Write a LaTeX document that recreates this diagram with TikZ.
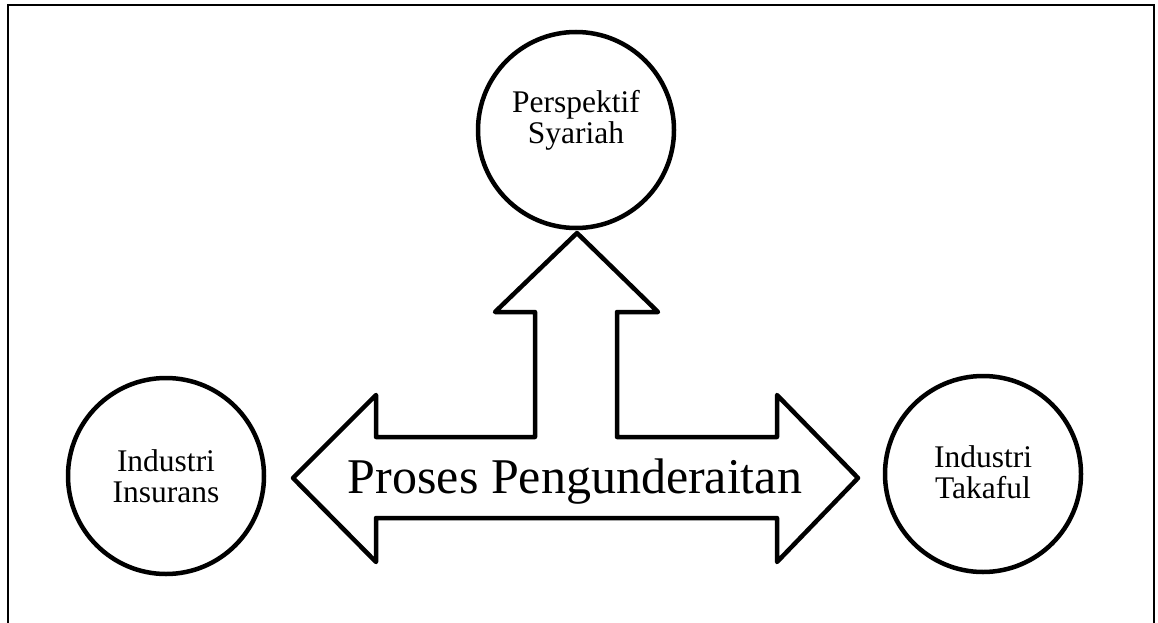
\documentclass[tikz,border=0pt]{standalone}
\usepackage{fontspec}
\setmainfont{Liberation Serif}
\begin{document}
\begin{tikzpicture}[x=1pt,y=-1pt,
  ring/.style={draw,circle,line width=4.5pt,minimum size=196pt,inner sep=0pt},
  ringtext/.style={align=center,font=\fontsize{31.5}{31}\selectfont,inner sep=0pt},
  bigtext/.style={font=\fontsize{50}{60}\selectfont,inner sep=0pt},
  outline/.style={draw,line width=4.5pt,line join=round}]
\clip (0,0) rectangle (1158,623);
\draw[line width=1.8pt] (8,5) rectangle (1154,660);
% circles
\node[ring] (syariah) at (576,130) {};
\node[ring] (insurans) at (166,476) {};
\node[ring] (takaful) at (983,474) {};
% circle texts
\node[ringtext] (tsyariah) at ([yshift=9.5pt]syariah.center) {Perspektif\\Syariah};
\node[ringtext] (tinsurans) at (insurans.center) {Industri\\Insurans};
\node[ringtext] (ttakaful) at ([yshift=1.5pt]takaful.center) {Industri\\Takaful};
% arrow shape
\draw[outline] (293,478) -- (376,395) -- (376,437) -- (535,437) -- (535,312)
  -- (495,312) -- (577,233) -- (658,312) -- (617,312) -- (617,437)
  -- (777,437) -- (777,395) -- (858,478) -- (777,562) -- (777,518)
  -- (376,518) -- (376,562) -- cycle;
\node[bigtext,anchor=base] (proses) at (575,493) {Proses Pengunderaitan};
\end{tikzpicture}
\end{document}
